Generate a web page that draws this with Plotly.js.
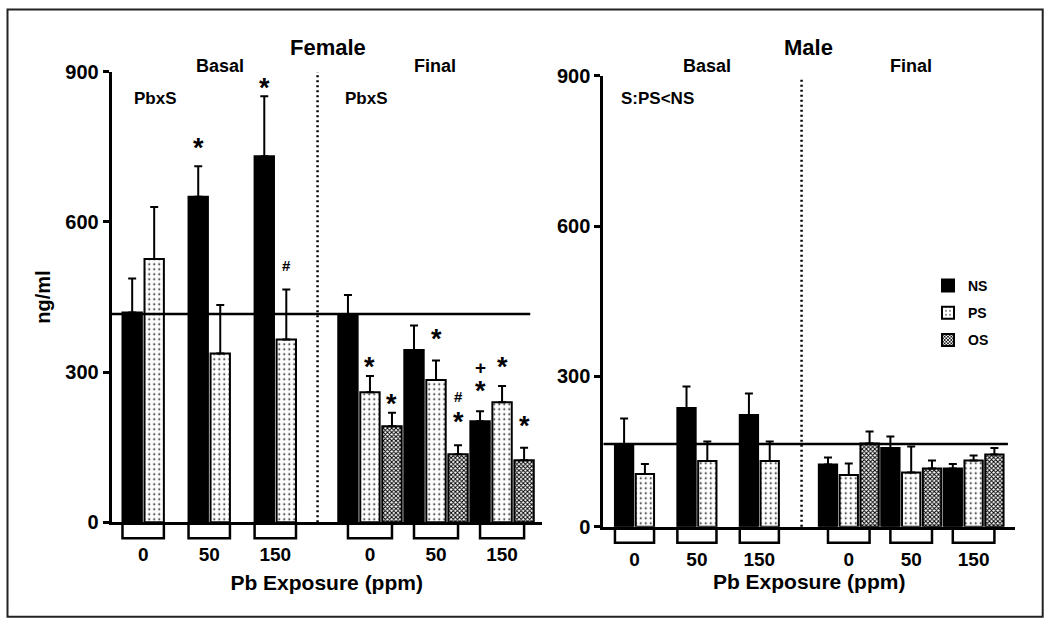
<!DOCTYPE html>
<html><head><meta charset="utf-8">
<script src="https://cdn.plot.ly/plotly-3.0.1.min.js"></script>
<style>html,body{margin:0;padding:0;background:#fff}</style>
</head><body>
<div id="chart" style="width:1050px;height:624px"></div>
<script>
// ---------------- data ----------------
const doses = ['0', '50', '150'];
const seriesNames = ['NS', 'PS', 'OS'];
const yTicks = [0, 300, 600, 900];

// Female (ng/ml), error = upper SEM
const femaleBasalNS = [419, 650, 731];
const femaleBasalNSErr = [68, 61, 120];
const femaleBasalPS = [526, 337, 365];
const femaleBasalPSErr = [104, 97, 100];
const femaleFinalNS = [416, 344, 202];
const femaleFinalNSErr = [38, 49, 20];
const femaleFinalPS = [260, 284, 240];
const femaleFinalPSErr = [32, 39, 32];
const femaleFinalOS = [192, 136, 124];
const femaleFinalOSErr = [27, 18, 25];
const femaleControlLine = 416;

// Male
const maleBasalNS = [165, 237, 223];
const maleBasalNSErr = [51, 43, 43];
const maleBasalPS = [105, 131, 131];
const maleBasalPSErr = [20, 39, 39];
const maleFinalNS = [124, 157, 116];
const maleFinalNSErr = [14, 23, 9];
const maleFinalPS = [103, 108, 132];
const maleFinalPSErr = [23, 52, 10];
const maleFinalOS = [166, 116, 144];
const maleFinalOSErr = [24, 16, 13];
const maleControlLine = 165;

// significance marks: [phase, dose index, series, symbol]
const femaleMarks = [
  ['basal', 1, 'NS', '*'], ['basal', 2, 'NS', '*'], ['basal', 2, 'PS', '#'],
  ['final', 0, 'PS', '*'], ['final', 0, 'OS', '*'],
  ['final', 1, 'PS', '*'], ['final', 1, 'OS', '*'], ['final', 1, 'OS', '#'],
  ['final', 2, 'NS', '*'], ['final', 2, 'NS', '+'], ['final', 2, 'PS', '*'], ['final', 2, 'OS', '*']
];
// text labels
const panelTitles = ['Female', 'Male'];
const phaseLabels = ['Basal', 'Final'];
const effectLabels = ['PbxS', 'PbxS', 'S:PS&lt;NS'];
const xTitle = 'Pb Exposure (ppm)';
const yTitle = 'ng/ml';

// ---------------- layout helpers (style only) ----------------
const W = 1050, H = 624;
const px = v => v / W;
const py = v => 1 - v / H;
const FINAL_START = 9.8;
const BAR_W = 0.88;
const slot = (phase, g, s) => (phase === 'basal' ? 0 : FINAL_START) + g * 3 + s;
const markLift = [21, 11, 23, 12, 12, 25, 26, 48, 23, 44, 22, 25];
const glyph = {'*': {size: 27, dy: -3}, '#': {size: 15, dy: 1}, '+': {size: 19, dy: 0}};
const BOLD = 'Liberation Sans';
const CAL = 'Liberation Sans';

const panels = [
  {key: 'F', xa: 'x', ya: 'y',
   basal: {NS: [femaleBasalNS, femaleBasalNSErr], PS: [femaleBasalPS, femaleBasalPSErr]},
   final: {NS: [femaleFinalNS, femaleFinalNSErr], PS: [femaleFinalPS, femaleFinalPSErr], OS: [femaleFinalOS, femaleFinalOSErr]},
   control: femaleControlLine, marks: femaleMarks},
  {key: 'M', xa: 'x2', ya: 'y2',
   basal: {NS: [maleBasalNS, maleBasalNSErr], PS: [maleBasalPS, maleBasalPSErr]},
   final: {NS: [maleFinalNS, maleFinalNSErr], PS: [maleFinalPS, maleFinalPSErr], OS: [maleFinalOS, maleFinalOSErr]},
   control: maleControlLine, marks: []}
];

const markerStyle = {
  NS: {color: '#000', line: {color: '#000', width: 2}},
  PS: {color: '#fff', line: {color: '#000', width: 2},
       pattern: {shape: '.', fgcolor: '#000', bgcolor: '#fff', size: 5, solidity: 0.1}},
  OS: {color: '#fff', line: {color: '#000', width: 2},
       pattern: {shape: 'x', fgcolor: '#000', bgcolor: '#fff', size: 3, solidity: 0.55}}
};

const traces = [];
panels.forEach((p, pi) => {
  seriesNames.forEach((name, s) => {
    const xs = [], ys = [], es = [];
    ['basal', 'final'].forEach(phase => {
      const d = p[phase][name];
      if (!d) return;
      d[0].forEach((v, g) => { xs.push(slot(phase, g, s)); ys.push(v); es.push(d[1][g]); });
    });
    traces.push({
      type: 'bar', name: name, x: xs, y: ys, width: BAR_W,
      xaxis: p.xa, yaxis: p.ya, marker: markerStyle[name],
      error_y: {type: 'data', symmetric: false, array: es, arrayminus: es.map(() => 0),
                color: '#000', thickness: 2, width: 4},
      showlegend: pi === 1, legendgroup: name, hoverinfo: 'skip'
    });
  });
});

function xAxis(domain, range, standoff) {
  const tv = [], tt = [];
  doses.forEach((d, g) => { tv.push(slot('basal', g, 0.5)); tt.push(d); });
  doses.forEach((d, g) => { tv.push(slot('final', g, 1)); tt.push(d); });
  return {domain: domain, range: range, showgrid: false, zeroline: false,
    showline: true, linecolor: '#000', linewidth: 3, ticks: '',
    tickvals: tv, ticktext: tt, ticklabelstandoff: 13,
    tickfont: {family: BOLD, size: 19, weight: 'bold', color: '#000'},
    title: {text: xTitle, standoff: standoff, font: {family: BOLD, size: 21, weight: 'bold', color: '#000'}},
    fixedrange: true};
}
function yAxis(domain, anchor, title) {
  const a = {domain: domain, range: [0, 900], anchor: anchor, showgrid: false, zeroline: false,
    showline: true, linecolor: '#000', linewidth: 3, ticks: 'outside', ticklen: 6, tickwidth: 3,
    tickcolor: '#000', tickvals: yTicks, ticktext: yTicks.map(String),
    tickfont: {family: BOLD, size: 20, weight: 'bold', color: '#000'}, fixedrange: true};
  if (title) a.title = {text: title, standoff: 10, font: {family: BOLD, size: 20, weight: 'bold', color: '#000'}};
  return a;
}

const shapes = [];
const annotations = [];
const geom = [
  {xr: [-0.93, 18.6], sep: 8.42, refEnd: 18.08, base: 522.3, top: 72},
  {xr: [-1.0, 18.79], sep: 8.53, refEnd: 18.45, base: 526.7, top: 77}
];
panels.forEach((p, pi) => {
  const G = geom[pi];
  shapes.push({type: 'line', xref: p.xa, yref: p.ya, x0: G.xr[0], x1: G.refEnd,
    y0: p.control, y1: p.control, line: {color: '#000', width: 2.5}, layer: 'above'});
  shapes.push({type: 'line', xref: p.xa, yref: 'paper', x0: G.sep, x1: G.sep,
    y0: py(G.base), y1: py(G.top), line: {color: '#000', width: 2.5, dash: '2px,3px'}});
  doses.forEach((d, g) => {
    const b0 = slot('basal', g, 0) - BAR_W / 2, b1 = slot('basal', g, 1) + BAR_W / 2;
    const f0 = slot('final', g, 0), f1 = slot('final', g, 2);
    [[b0, b1], [f0, f1]].forEach(([a, b]) => {
      shapes.push({type: 'path', xref: p.xa, yref: 'paper', ysizemode: 'pixel', yanchor: py(G.base),
        path: `M${a},0 L${a},-16 L${b},-16 L${b},0`, line: {color: '#000', width: 2.5}});
    });
  });
  p.marks.forEach((m, i) => {
    const [phase, g, name, sym] = m;
    const d = p[phase][name];
    const s = seriesNames.indexOf(name);
    annotations.push({xref: p.xa, yref: p.ya, x: slot(phase, g, s), y: d[0][g] + d[1][g],
      text: sym, showarrow: false, yanchor: 'middle', xanchor: 'center',
      yshift: markLift[i] + glyph[sym].dy,
      font: {family: BOLD, size: glyph[sym].size, weight: 'bold', color: '#000'}});
  });
});

function label(x, y, text, size, family) {
  return {xref: 'paper', yref: 'paper', x: px(x), y: py(y), text: text, showarrow: false,
    xanchor: 'center', yanchor: 'middle',
    font: {family: family, size: size, weight: 'bold', color: '#000'}};
}
annotations.push(
  label(328, 48, panelTitles[0], 22, BOLD),
  label(808, 48, panelTitles[1], 22, BOLD),
  label(220, 66, phaseLabels[0], 18, CAL),
  label(435, 66, phaseLabels[1], 18, CAL),
  label(707, 66, phaseLabels[0], 18, CAL),
  label(911, 66, phaseLabels[1], 18, CAL),
  label(155, 98, effectLabels[0], 17, CAL),
  label(366, 98, effectLabels[1], 17, CAL),
  label(657, 98, effectLabels[2], 17, CAL)
);

shapes.push({type: 'rect', xref: 'paper', yref: 'paper', x0: px(7.5), x1: px(1042.7),
  y0: py(616.7), y1: py(9.5), line: {color: '#222', width: 2}});

const layout = {
  width: W, height: H, margin: {l: 0, r: 0, t: 0, b: 0},
  paper_bgcolor: '#fff', plot_bgcolor: 'rgba(0,0,0,0)',
  barmode: 'overlay', bargap: 0,
  xaxis: xAxis([px(111.7), px(541.7)], geom[0].xr, 12),
  yaxis: yAxis([py(522.3), py(71.7)], 'x', yTitle),
  xaxis2: xAxis([px(603.3), px(1015)], geom[1].xr, 6),
  yaxis2: yAxis([py(526.7), py(75.7)], 'x2', null),
  showlegend: true,
  legend: {x: px(928), y: py(270), xanchor: 'left', yanchor: 'top', bgcolor: 'rgba(0,0,0,0)',
    font: {family: CAL, size: 14, weight: 'bold', color: '#000'}, tracegroupgap: 6,
    traceorder: 'grouped'},
  shapes: shapes, annotations: annotations
};
layout.xaxis.anchor = 'y';
layout.xaxis2.anchor = 'y2';

Plotly.newPlot('chart', traces, layout, {displayModeBar: false, staticPlot: true});
</script>
</body></html>
